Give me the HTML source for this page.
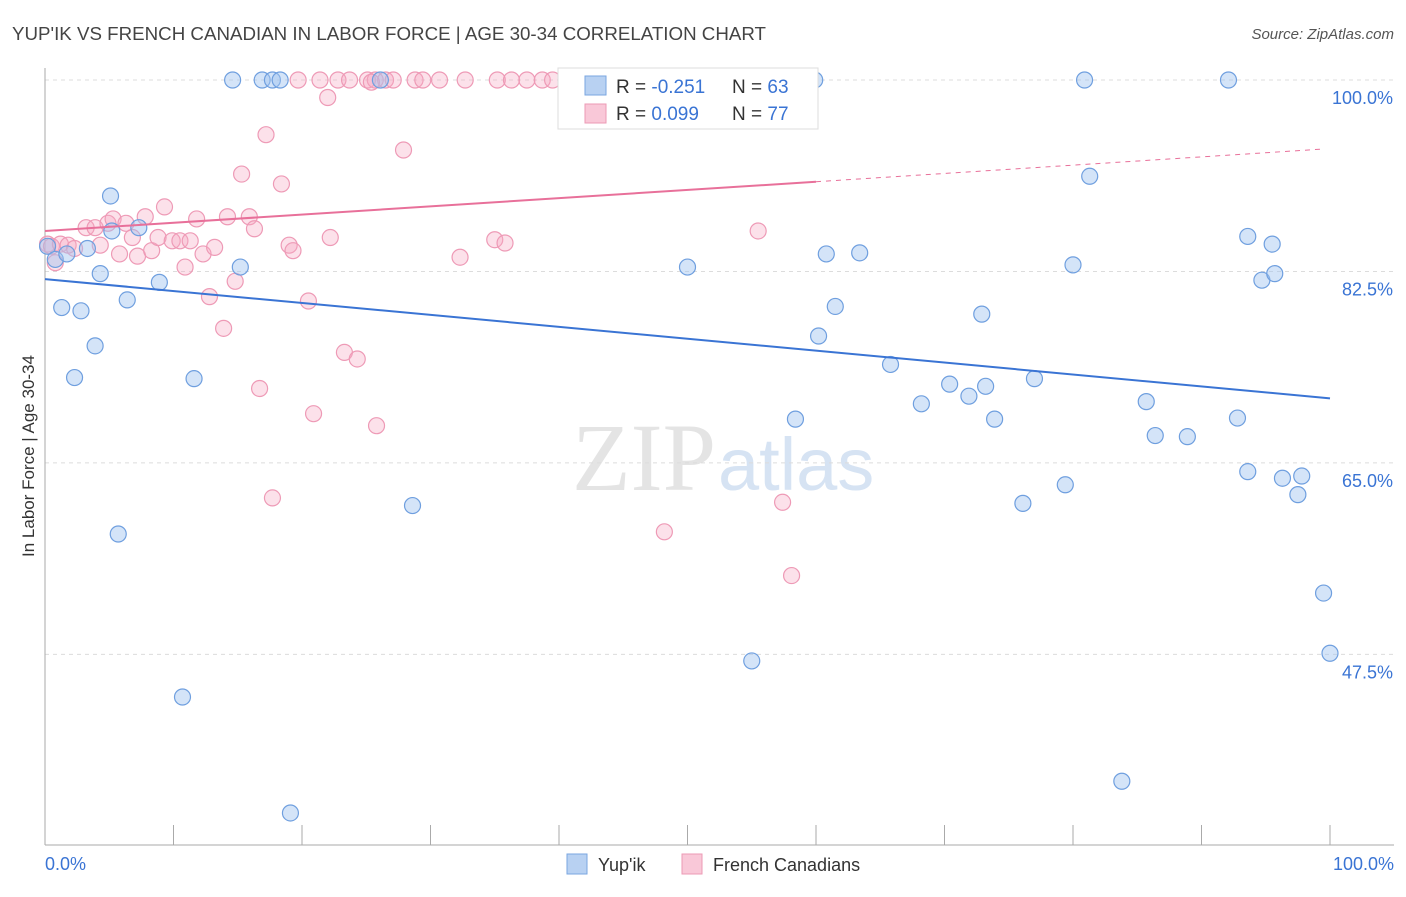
<!DOCTYPE html>
<html><head><meta charset="utf-8"><style>
body{margin:0;background:#fff;font-family:"Liberation Sans",sans-serif;}
</style></head><body>
<svg id="chart" width="1406" height="892" xmlns="http://www.w3.org/2000/svg">
<text x="12" y="40" font-size="18" fill="#444" textLength="754" lengthAdjust="spacingAndGlyphs">YUP'IK VS FRENCH CANADIAN IN LABOR FORCE | AGE 30-34 CORRELATION CHART</text>
<text x="1394" y="39" font-size="15" fill="#555" font-style="italic" text-anchor="end">Source: ZipAtlas.com</text>
<text x="716" y="490" font-size="96" fill="#e4e4e4" text-anchor="end" font-family="Liberation Serif,serif">ZIP</text>
<text x="718" y="490" font-size="74" fill="#d6e3f3">atlas</text>
<g id="grid"></g><g id="axes"></g><g id="marks"></g>
<text x="34" y="456" font-size="17" fill="#333" text-anchor="middle" transform="rotate(-90 34 456)">In Labor Force | Age 30-34</text>
<g>
<rect x="558" y="68" width="260" height="61" fill="#fff" stroke="#ddd"/>
<rect x="585" y="76" width="21" height="19" fill="#b8d1f2" stroke="#7aa6e0"/>
<rect x="585" y="104" width="21" height="19" fill="#f9c8d8" stroke="#ec9ab5"/>
<text x="616" y="93" font-size="19" fill="#333">R = <tspan fill="#3a74d4">-0.251</tspan></text>
<text x="732" y="93" font-size="19" fill="#333">N = <tspan fill="#3a74d4">63</tspan></text>
<text x="616" y="120" font-size="19" fill="#333">R = <tspan fill="#3a74d4"> 0.099</tspan></text>
<text x="732" y="120" font-size="19" fill="#333">N = <tspan fill="#3a74d4">77</tspan></text>
</g>
<g>
<rect x="567" y="854" width="20" height="20" fill="#b8d1f2" stroke="#7aa6e0"/>
<text x="598" y="871" font-size="18" fill="#333">Yup'ik</text>
<rect x="682" y="854" width="20" height="20" fill="#f9c8d8" stroke="#ec9ab5"/>
<text x="713" y="871" font-size="18" fill="#333">French Canadians</text>
</g>
</svg>
<script>
const yTicks=[100,82.5,65,47.5];
const yTickLabels=["100.0%","82.5%","65.0%","47.5%"];
const xTickLabels=["0.0%","100.0%"];
const blueX=[14.6,16.9,17.7,18.3,26.1,59.9,80.9,92.1,5.1,81.3,0.2,0.8,1.7,3.3,5.2,7.3,4.3,15.2,8.9,1.3,2.8,6.4,3.9,2.3,11.6,50,60.8,63.4,80,93.6,95.5,94.7,95.7,61.5,60.2,72.9,65.8,70.4,73.2,71.9,68.2,77.0,85.7,58.4,73.9,86.4,88.9,92.8,93.6,96.3,97.8,97.5,79.4,76.1,28.6,5.7,99.5,100,55,10.7,83.8,19.1];
const blueY=[100,100,100,100,100,100,100,100,89.4,91.2,84.8,83.6,84.1,84.6,86.2,86.5,82.3,82.9,81.5,79.2,78.9,79.9,75.7,72.8,72.7,82.9,84.1,84.2,83.1,85.7,85,81.7,82.3,79.3,76.6,78.6,74,72.2,72,71.1,70.4,72.7,70.6,69.0,69.0,67.5,67.4,69.1,64.2,63.6,63.8,62.1,63.0,61.3,61.1,58.5,53.1,47.6,46.9,43.6,35.9,33.0];
const pinkX=[0.2,0.8,0.5,1.2,1.8,2.3,3.2,3.9,4.3,4.9,5.3,5.8,6.3,6.8,7.2,7.8,8.3,8.8,9.3,9.9,10.5,10.9,11.3,11.8,12.3,12.8,13.2,13.9,14.2,14.8,15.3,15.9,16.3,16.7,17.2,17.7,18.4,19,19.3,20.5,20.9,22,22.2,23.3,24.3,25.8,27.9,32.3,35,35.8,48.2,55.5,57.4,58.1,19.7,21.4,22.8,23.7,25.1,25.7,26.5,27.1,28.8,29.4,30.7,32.7,35.2,36.3,37.5,38.7,39.5,41.5,44.6,46.6,25.4];
const pinkY=[85,83.3,84.8,85,84.9,84.6,86.5,86.5,84.9,86.9,87.3,84.1,86.9,85.6,83.9,87.5,84.4,85.6,88.4,85.3,85.3,82.9,85.3,87.3,84.1,80.2,84.7,77.3,87.5,81.6,91.4,87.5,86.4,71.8,95.0,61.8,90.5,84.9,84.4,79.8,69.5,98.4,85.6,75.1,74.5,68.4,93.6,83.8,85.4,85.1,58.7,86.2,61.4,54.7,100,100,100,100,100,100,100,100,100,100,100,100,100,100,100,100,100,100,100,100,99.8];
const blueTrend=[81.8,70.9];
const pinkTrend=[86.2,90.7,93.7];
const NS="http://www.w3.org/2000/svg";
const X=v=>45+v*12.85, Y=v=>80+(100-v)*10.94;
function mk(tag,attrs,parent){const e=document.createElementNS(NS,tag);for(const k in attrs)e.setAttribute(k,attrs[k]);parent.appendChild(e);return e;}
const grid=document.getElementById('grid'),axes=document.getElementById('axes'),marks=document.getElementById('marks');
yTicks.forEach((t,i)=>{
 const l=mk('line',{x1:45,x2:1394,y1:Y(t),y2:Y(t),stroke:'#dcdcdc','stroke-dasharray':'4 4'},grid);
 
 
 const tx=mk('text',{x:1393,y:Y(t)+24,'font-size':18,fill:'#3a74d4','text-anchor':'end'},axes);
 tx.textContent=yTickLabels[i];
 
 
});
const ax=mk('line',{x1:45,x2:1394,y1:845,y2:845,stroke:'#aaa'},axes);


const ay=mk('line',{x1:45,x2:45,y1:68,y2:845,stroke:'#aaa'},axes);


for(let i=0;i<=10;i++){
 const t=mk('line',{x1:X(i*10),x2:X(i*10),y1:825,y2:845,stroke:'#aaa'},axes);
 
 
}
[[0,'start',45],[1,'end',1394]].forEach(([i,a,x])=>{
 const t=mk('text',{x:x,y:870,'font-size':18,fill:'#3a74d4','text-anchor':a},axes);
 t.textContent=xTickLabels[i];
 
 
});
pinkX.forEach((x,i)=>{
 const c=mk('circle',{cx:X(x),cy:Y(pinkY[i]),r:8,fill:'rgba(246,170,196,0.35)',stroke:'#ee9ab6','stroke-width':1.2},marks);
 
 
});
blueX.forEach((x,i)=>{
 const c=mk('circle',{cx:X(x),cy:Y(blueY[i]),r:8,fill:'rgba(160,195,240,0.45)',stroke:'#6f9fdf','stroke-width':1.2},marks);
 
 
});
const bl=mk('line',{x1:X(0),y1:Y(blueTrend[0]),x2:X(100),y2:Y(blueTrend[1]),stroke:'#3a74d4','stroke-width':2},marks);


const pl=mk('line',{x1:X(0),y1:Y(pinkTrend[0]),x2:X(60),y2:Y(pinkTrend[1]),stroke:'#e8709a','stroke-width':2},marks);


const pd=mk('line',{x1:X(60),y1:Y(pinkTrend[1]),x2:X(99.6),y2:Y(pinkTrend[2]),stroke:'#e8709a','stroke-width':1,'stroke-dasharray':'5 5'},marks);


</script>
</body></html>
